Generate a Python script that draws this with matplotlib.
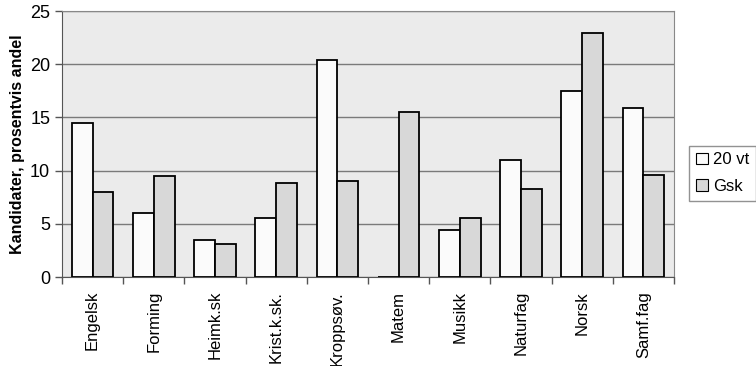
import numpy as np
import matplotlib.pyplot as plt

fag = ['Engelsk', 'Forming', 'Heimk.sk', 'Krist.k.sk.', 'Kroppsøv.',
       'Matem', 'Musikk', 'Naturfag', 'Norsk', 'Samf.fag']
vt20 = [14.5, 6.0, 3.5, 5.5, 20.4, 0.0, 4.4, 11.0, 17.5, 15.9]
gsk = [8.0, 9.5, 3.1, 8.8, 9.0, 15.5, 5.5, 8.3, 22.9, 9.6]

plt.rcParams['font.family'] = ['Liberation Sans', 'DejaVu Sans']

fig = plt.figure(figsize=(7.56, 3.66), dpi=100)
ax = fig.add_axes([62/756, 1 - 277/366, 612/756, 266/366])
ax.set_facecolor('#ebebeb')

x = np.arange(len(fag))
w = 0.34
ax.bar(x - w/2, vt20, w, color='#fbfbfb', edgecolor='black', linewidth=1.3,
       label='20 vt', zorder=3)
ax.bar(x + w/2, gsk, w, color='#d8d8d8', edgecolor='black', linewidth=1.3,
       label='Gsk', zorder=3)

ax.set_xlim(-0.5, len(fag) - 0.5)
ax.set_ylim(0, 25)
ax.set_yticks([0, 5, 10, 15, 20, 25])
ax.yaxis.grid(True, color='#7a7a7a', linewidth=1, zorder=1)
ax.set_axisbelow(True)

ax.set_xticks(x)
ax.set_xticklabels(fag, rotation=90, fontsize=12)
ax.tick_params(axis='x', which='major', length=0, pad=10)
ax.set_xticks(np.arange(len(fag) + 1) - 0.5, minor=True)
ax.tick_params(axis='x', which='minor', length=5, width=1, color='#555555')
ax.tick_params(axis='y', labelsize=13, length=5, width=1, color='#555555')

for s in ['top', 'right']:
    ax.spines[s].set_color('#888888')
ax.spines['left'].set_color('#555555')
ax.spines['bottom'].set_color('#555555')

ax.set_ylabel('Kandidater, prosentvis andel', fontsize=11.5, fontweight='bold')

leg = ax.legend(loc='center left', bbox_to_anchor=(1.025, 0.39), fontsize=12,
                frameon=True, fancybox=False, edgecolor='#777777',
                handlelength=0.7, handleheight=0.7, handletextpad=0.3,
                borderpad=0.4, labelspacing=0.7, borderaxespad=0)
for h in leg.legend_handles:
    h.set_linewidth(0.8)

fig.savefig('out.png', dpi=100)
